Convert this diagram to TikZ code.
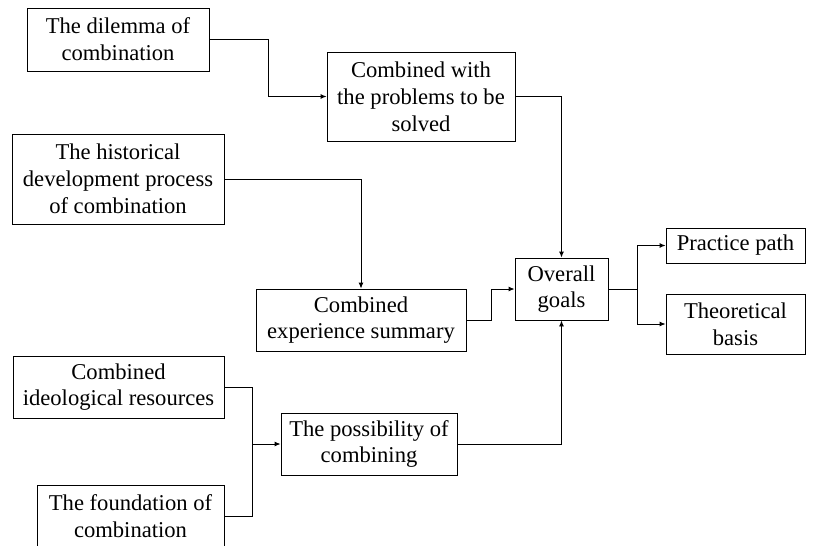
\documentclass[tikz,border=0pt]{standalone}
\usepackage{fontspec}
\setmainfont{Liberation Serif}
\usetikzlibrary{arrows.meta}
\tikzset{
  box/.style={draw=black, line width=0.9pt, inner sep=0pt, align=center,
    font=\fontsize{22.6}{26.8}\selectfont},
  arr/.style={draw=black, line width=0.9pt, -{Latex[length=6pt,width=5pt]}},
  ln/.style={draw=black, line width=0.9pt}
}
\begin{document}
\begin{tikzpicture}[x=1pt,y=-1pt]
\useasboundingbox (0,0) rectangle (814,546);
\clip (0,0) rectangle (814,546);
\node[box, minimum width=182pt, minimum height=63pt] (A) at (118,39.5) {The dilemma of\\combination};
\node[box, minimum width=188pt, minimum height=89pt] (B) at (421,96.5) {Combined with\\the problems to be\\solved};
\node[box, minimum width=212pt, minimum height=90pt] (C) at (118,179) {The historical\\development process\\of combination};
\node[box, minimum width=210pt, minimum height=62pt] (D) at (361,320) {Combined\\experience summary};
\node[box, minimum width=93pt, minimum height=62pt] (O) at (561.5,289) {Overall\\goals};
\node[box, minimum width=139pt, minimum height=35pt] (P) at (735.5,245.5) {Practice path};
\node[box, minimum width=139pt, minimum height=60pt] (T) at (735.5,324) {Theoretical\\basis};
\node[box, minimum width=211pt, minimum height=62pt] (E) at (118.5,387) {Combined\\ideological resources};
\node[box, minimum width=187pt, minimum height=62pt] (F) at (130.5,516) {The foundation of\\combination};
\node[box, minimum width=176pt, minimum height=62pt] (G) at (369,444) {The possibility of\\combining};
\coordinate (J) at (252,444);
\draw[arr] (A.east) -- ++(59,0) |- (B.west);
\draw[arr] (B.east) -| (O.north);
\draw[arr] (C.east) -| (D.north);
\draw[arr] (D.east) -- ++(25,0) |- (O.west);
\draw[ln] (E.east) -- ++(28,0) |- (F.east);
\draw[arr] (J) -- (G.west);
\draw[arr] (G.east) -| (O.south);
\draw[arr] (O.east) -- ++(29,0) |- (P.west);
\draw[arr] (O.east) -- ++(29,0) |- (T.west);
\end{tikzpicture}
\end{document}
